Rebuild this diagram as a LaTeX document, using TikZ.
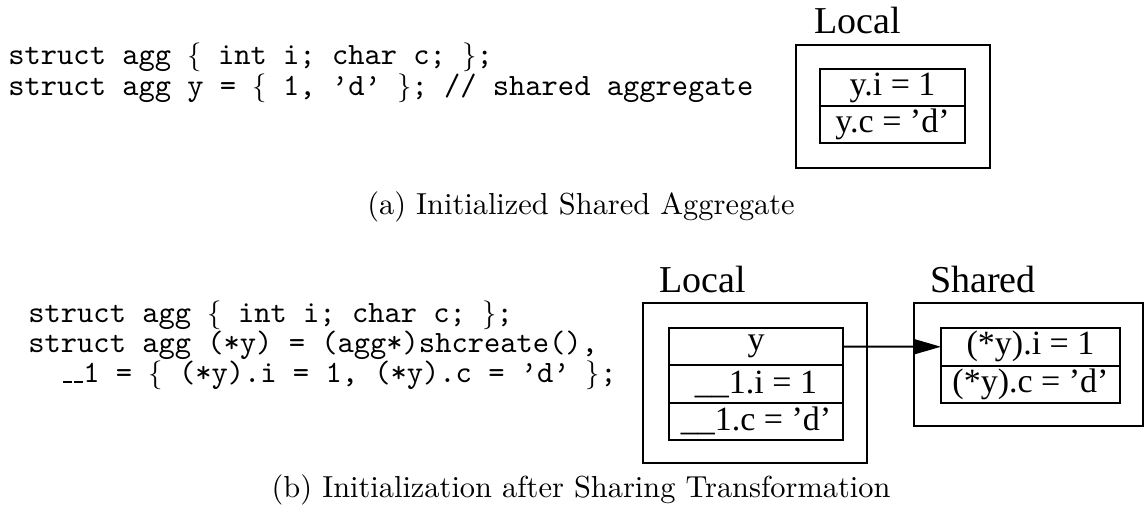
\documentclass[tikz,border=0pt]{standalone}
\usepackage{fontspec}
\newfontfamily\dotfont{Liberation Serif}
\newfontfamily\codefamily{lmmono10-regular.otf}
\newfontfamily\capfamily{lmroman10-regular.otf}
\usetikzlibrary{arrows.meta,positioning}
\newcommand\codefont{\codefamily\fontsize{15.5}{16}\selectfont}
\newcommand\codeL{$\smash{\{}$}
\newcommand\codeR{$\smash{\}}$}
\newcommand\codeus{\kern.06em\vbox{\hrule width.3em height 0.6pt depth 0.6pt}}

\begin{document}
\begin{tikzpicture}[x=0.5pt,y=-0.5pt,>=Latex,
  code/.style={font=\codefont,anchor=base west,inner sep=0pt},
  cluster/.style={draw,line width=1.1pt,inner sep=0pt},
  field/.style={draw,line width=1pt,inner sep=0pt,outer sep=0pt,font=\dotfont\fontsize{17}{17}\selectfont},
  clabel/.style={font=\dotfont\fontsize{19}{19}\selectfont,anchor=base,inner sep=0pt},
  caption/.style={font=\capfamily\fontsize{15.2}{18}\selectfont,anchor=base,inner sep=0pt}]
\useasboundingbox (0,0) rectangle (1148,525);

% (a) initialized shared aggregate
\node[code] (codea1) at (8,64) {struct agg \codeL{} int i; char c; \codeR;};
\node[code] (codea2) at (8,95) {struct agg y = \codeL{} 1, \textquoteright d\textquoteright{} \codeR; // shared aggregate};

\node[clabel] (locala) at (858,33) {Local};
\node[cluster,minimum width=97pt,minimum height=61.5pt] (boxa) at (893,106.5) {};
\node[field,minimum width=72.5pt,minimum height=18.5pt] (ai) at (892.5,87.5) {y.i = 1};
\node[field,minimum width=72.5pt,minimum height=18.5pt,below=0pt of ai] (ac) {y.c = ’d’};

\node[caption] (capa) at (581,214) {(a) Initialized Shared Aggregate};

% (b) after sharing transformation
\node[code] (codeb1) at (28,322) {struct agg \codeL{} int i; char c; \codeR;};
\node[code] (codeb2) at (28,352) {struct agg (*y) = (agg*)shcreate(),};
\node[code] (codeb3) at (28,382) {\ \ \codeus\codeus1 = \codeL{} (*y).i = 1, (*y).c = \textquoteright d\textquoteright{} \codeR;};

\node[clabel] (localb) at (703,292) {Local};
\node[cluster,minimum width=112pt,minimum height=80pt] (boxb) at (755,383) {};
\node[field,minimum width=87pt,minimum height=18.65pt] (ptr) at (756,346.7) {y};
\node[field,minimum width=87pt,minimum height=18.65pt,below=0pt of ptr] (bi) {\_\_1.i = 1};
\node[field,minimum width=87pt,minimum height=18.65pt,below=0pt of bi] (bc) {\_\_1.c = ’d’};

\node[clabel] (sharedb) at (983,292) {Shared};
\node[cluster,minimum width=114.5pt,minimum height=61.5pt] (boxs) at (1028.5,364.5) {};
\node[field,minimum width=89.5pt,minimum height=18.75pt] (si) at (1030.5,346.75) {(*y).i = 1};
\node[field,minimum width=89.5pt,minimum height=18.75pt,below=0pt of si] (sc) {(*y).c = ’d’};

\draw[line width=1pt,-{Triangle[length=13.5pt,width=7.5pt]}] (ptr.east) -- (si.west);

\node[caption] (capb) at (581,497) {(b) Initialization after Sharing Transformation};
\end{tikzpicture}
\end{document}
